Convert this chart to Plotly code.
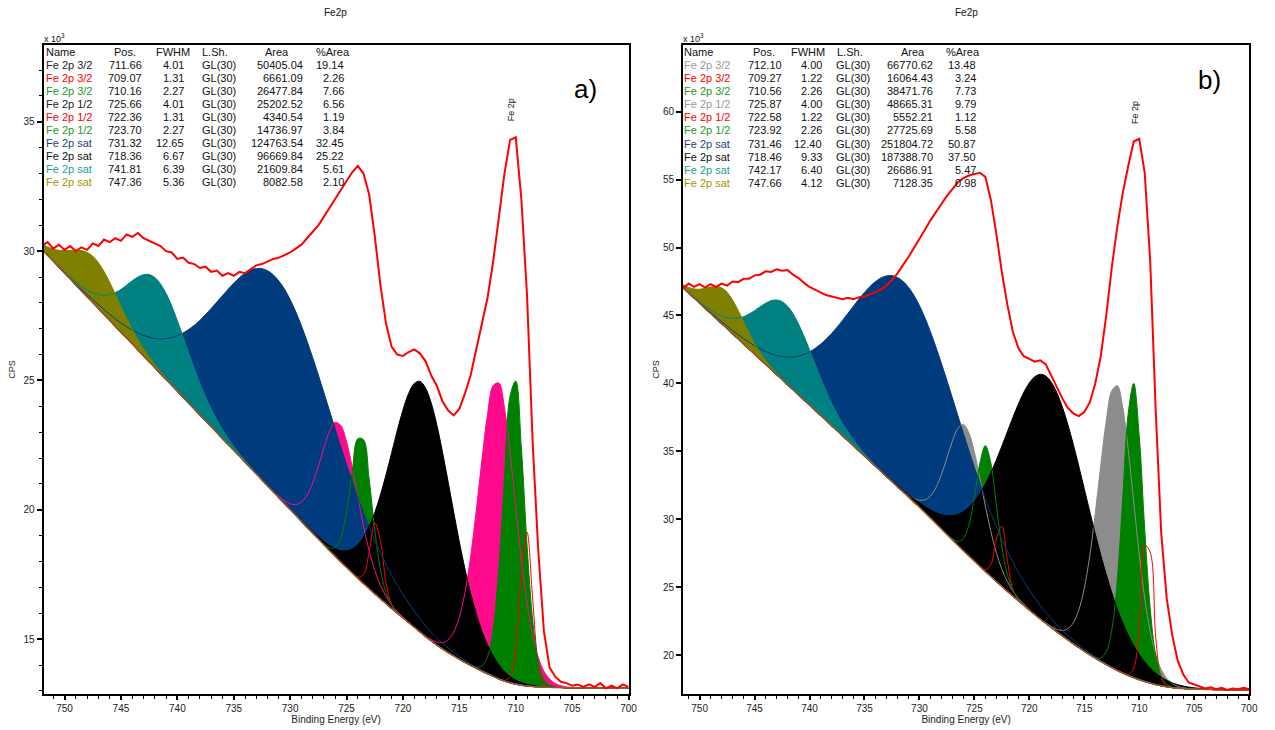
import numpy as np
import plotly.graph_objects as go

W, H = 1275, 730

# Binding-energy grid of the recorded spectra (eV)
ev = np.round(np.arange(700.0, 752.0 + 1e-9, 0.5), 2)

# ---------------- panel a) ----------------
cps_a = [13.15, 13.25, 13.10, 13.20, 13.10, 13.30, 13.15, 13.25, 13.15, 13.25,
         13.20, 13.30, 13.35, 13.55, 13.90, 15.30, 18.40, 22.60, 28.30, 32.00,
         34.40, 34.30, 33.00, 31.20, 29.60, 28.20, 27.20, 26.20, 25.20, 24.50,
         23.90, 23.65, 23.85, 24.20, 24.80, 25.20, 25.75, 26.05, 26.20, 26.10,
         25.95, 26.00, 26.30, 27.20, 28.70, 30.60, 32.20, 33.00, 33.30, 33.05,
         32.70, 32.40, 32.05, 31.65, 31.30, 31.00, 30.75, 30.50, 30.25, 30.10,
         29.95, 29.85, 29.75, 29.70, 29.60, 29.50, 29.45, 29.30, 29.15, 29.20,
         29.05, 29.15, 29.05, 29.25, 29.20, 29.40, 29.35, 29.50, 29.55, 29.75,
         29.70, 29.95, 30.00, 30.20, 30.30, 30.40, 30.50, 30.70, 30.55, 30.65,
         30.40, 30.50, 30.35, 30.45, 30.20, 30.30, 30.05, 30.15, 30.00, 30.20,
         30.05, 30.25, 30.10, 30.35, 30.20]
bg_a = [13.10, 13.10, 13.10, 13.11, 13.11, 13.11, 13.11, 13.11, 13.12, 13.12,
        13.12, 13.12, 13.13, 13.13, 13.14, 13.14, 13.15, 13.17, 13.19, 13.22,
        13.26, 13.31, 13.38, 13.46, 13.56, 13.66, 13.76, 13.87, 13.98, 14.10,
        14.22, 14.35, 14.48, 14.62, 14.77, 14.93, 15.10, 15.28, 15.46, 15.64,
        15.82, 16.00, 16.18, 16.37, 16.56, 16.75, 16.95, 17.15, 17.35, 17.56,
        17.77, 17.98, 18.20, 18.42, 18.64, 18.87, 19.09, 19.32, 19.55, 19.78,
        20.01, 20.24, 20.46, 20.69, 20.92, 21.15, 21.38, 21.61, 21.84, 22.07,
        22.29, 22.52, 22.75, 22.98, 23.21, 23.44, 23.66, 23.89, 24.12, 24.35,
        24.58, 24.81, 25.04, 25.26, 25.49, 25.72, 25.95, 26.18, 26.41, 26.64,
        26.86, 27.09, 27.32, 27.55, 27.78, 28.01, 28.23, 28.46, 28.69, 28.92,
        29.15, 29.38, 29.61, 29.83, 30.06]

names = ["Fe 2p 3/2", "Fe 2p 3/2", "Fe 2p 3/2", "Fe 2p 1/2", "Fe 2p 1/2",
         "Fe 2p 1/2", "Fe 2p sat", "Fe 2p sat", "Fe 2p sat", "Fe 2p sat"]
pos_a = ["711.66", "709.07", "710.16", "725.66", "722.36", "723.70", "731.32", "718.36", "741.81", "747.36"]
fwhm_a = ["4.01", "1.31", "2.27", "4.01", "1.31", "2.27", "12.65", "6.67", "6.39", "5.36"]
area_a = ["50405.04", "6661.09", "26477.84", "25202.52", "4340.54", "14736.97",
          "124763.54", "96669.84", "21609.84", "8082.58"]
pct_a = ["19.14", "2.26", "7.66", "6.56", "1.19", "3.84", "32.45", "25.22", "5.61", "2.10"]
height_a = [11.5, 6.0, 11.9, 5.3, 2.85, 5.7, 8.4, 9.7, 3.5, 1.8]

# ---------------- panel b) ----------------
cps_b = [17.50, 17.60, 17.50, 17.55, 17.45, 17.60, 17.50, 17.65, 17.55, 17.70,
         17.80, 18.00, 18.60, 19.60, 21.50, 24.20, 29.00, 38.00, 49.00, 55.50,
         58.00, 57.80, 56.00, 54.00, 51.50, 48.50, 45.00, 42.00, 40.00, 38.60,
         37.90, 37.60, 37.80, 38.20, 38.90, 39.70, 40.60, 41.40, 41.70, 41.60,
         41.80, 42.00, 42.60, 43.80, 45.80, 48.20, 51.00, 53.50, 55.20, 55.50,
         55.40, 55.30, 55.10, 54.80, 54.30, 53.80, 53.20, 52.60, 52.00, 51.30,
         50.60, 49.90, 49.30, 48.70, 48.10, 47.60, 47.20, 46.90, 46.70, 46.55,
         46.40, 46.35, 46.20, 46.30, 46.20, 46.30, 46.45, 46.50, 46.70, 46.90,
         47.10, 47.40, 47.75, 48.00, 48.35, 48.30, 48.40, 48.20, 48.25, 48.00,
         47.95, 47.70, 47.70, 47.45, 47.50, 47.20, 47.35, 47.10, 47.30, 47.05,
         47.30, 47.10, 47.35, 47.00, 47.20]
bg_b = [17.45, 17.45, 17.45, 17.46, 17.46, 17.47, 17.47, 17.48, 17.49, 17.50,
        17.51, 17.53, 17.55, 17.58, 17.62, 17.68, 17.75, 17.84, 17.95, 18.07,
        18.20, 18.35, 18.51, 18.69, 18.88, 19.09, 19.31, 19.54, 19.78, 20.03,
        20.29, 20.56, 20.84, 21.13, 21.42, 21.72, 22.03, 22.34, 22.66, 22.99,
        23.32, 23.66, 24.00, 24.35, 24.70, 25.06, 25.42, 25.79, 26.16, 26.54,
        26.92, 27.31, 27.70, 28.09, 28.49, 28.89, 29.29, 29.69, 30.09, 30.49,
        30.89, 31.27, 31.64, 32.02, 32.39, 32.77, 33.14, 33.52, 33.89, 34.27,
        34.64, 35.02, 35.39, 35.77, 36.14, 36.52, 36.89, 37.27, 37.64, 38.02,
        38.39, 38.77, 39.14, 39.52, 39.89, 40.27, 40.64, 41.02, 41.39, 41.77,
        42.14, 42.52, 42.89, 43.27, 43.64, 44.02, 44.39, 44.77, 45.14, 45.52,
        45.89, 46.27, 46.64, 47.02, 47.39]

pos_b = ["712.10", "709.27", "710.56", "725.87", "722.58", "723.92", "731.46", "718.46", "742.17", "747.66"]
fwhm_b = ["4.00", "1.22", "2.26", "4.00", "1.22", "2.26", "12.40", "9.33", "6.40", "4.12"]
area_b = ["66770.62", "16064.43", "38471.76", "48665.31", "5552.21", "27725.69",
          "251804.72", "187388.70", "26686.91", "7128.35"]
pct_b = ["13.48", "3.24", "7.73", "9.79", "1.12", "5.58", "50.87", "37.50", "5.47", "0.98"]
height_b = [21.0, 11.2, 21.7, 9.3, 4.5, 9.3, 15.5, 18.2, 5.8, 2.7]

lineshape = "GL(30)"
filled = [True, False, True, True, False, True, True, True, True, True]

BLUE, TEAL, OLIVE, GREEN, RED = "#003c7d", "#008080", "#808000", "#008000", "#ff0000"
PINK, GREY = "#ff0a8c", "#8c8c8c"
colors_a = [PINK, RED, GREEN, PINK, RED, GREEN, BLUE, "#000000", TEAL, OLIVE]
colors_b = [GREY, RED, GREEN, GREY, RED, GREEN, BLUE, "#000000", TEAL, OLIVE]
text_a = ["#222222", "#ff0000", "#1e9a1e", "#222222", "#ff0000", "#1e9a1e", "#1f3f80", "#111111", "#1aa0a0", "#a89400"]
text_b = ["#9a9a9a", "#ff0000", "#1e9a1e", "#9a9a9a", "#ff0000", "#1e9a1e", "#1f3f80", "#111111", "#1aa0a0", "#a89400"]


def gl(x, centre, fwhm, height, mix=0.3):
    """CasaXPS product Gaussian-Lorentzian GL(30) line shape."""
    d2 = ((x - centre) / fwhm) ** 2
    return height * np.exp(-4 * np.log(2) * (1 - mix) * d2) / (1 + 4 * mix * d2)


fig = go.Figure()


def add_panel(xa, ya, cps, bg, pos, fwhm, heights, colors):
    bg = np.array(bg)
    curves = [bg + gl(ev, float(p), float(f), h) for p, f, h in zip(pos, fwhm, heights)]
    common = dict(xaxis=xa, yaxis=ya, showlegend=False, hoverinfo="skip")
    # filled components, in table order
    for c, col, fl in zip(curves, colors, filled):
        if not fl:
            continue
        fig.add_trace(go.Scatter(x=ev, y=bg, mode="lines", line=dict(width=0, shape="spline"), **common))
        fig.add_trace(go.Scatter(x=ev, y=c, mode="lines", fill="tonexty", fillcolor=col,
                                 line=dict(width=0, shape="spline", color=col), **common))
    # component outlines
    for c, col in zip(curves, colors):
        fig.add_trace(go.Scatter(x=ev, y=c, mode="lines", line=dict(width=1, color=col, shape="spline"), **common))
    # background
    fig.add_trace(go.Scatter(x=ev, y=bg, mode="lines", line=dict(width=1.5, color="#a0522d", shape="spline"), **common))
    # measured envelope
    fig.add_trace(go.Scatter(x=ev, y=cps, mode="lines", line=dict(width=2, color=RED), **common))


add_panel("x", "y", cps_a, bg_a, pos_a, fwhm_a, height_a, colors_a)
add_panel("x2", "y2", cps_b, bg_b, pos_b, fwhm_b, height_b, colors_b)

FONT = "Arial, Liberation Sans, sans-serif"
tickfont = dict(family=FONT, size=10, color="#222")
titlefont = dict(family=FONT, size=10, color="#222")
ydom = [1 - 694 / H, 1 - 45 / H]


def xaxis(x0, x1, rng, anchor):
    return dict(domain=[x0 / W, x1 / W], range=rng, anchor=anchor, showline=True, mirror=True, linewidth=2,
                linecolor="black", ticks="outside", ticklen=4, tickwidth=1.5, tickcolor="black",
                tick0=700, dtick=5, tickfont=tickfont, showgrid=False, zeroline=False,
                title=dict(text="Binding Energy (eV)", font=titlefont, standoff=2),
                minor=dict(dtick=1, ticks="outside", ticklen=3, tickcolor="black", tickwidth=1))


def yaxis(anchor, rng, minor, standoff):
    d = dict(domain=ydom, range=rng, anchor=anchor, showline=True, mirror=True, linewidth=2,
             linecolor="black", ticks="outside", ticklen=5, tickwidth=1.5, tickcolor="black",
             tick0=0, dtick=5, tickfont=tickfont, showgrid=False, zeroline=False,
             title=dict(text="CPS", font=dict(family=FONT, size=9, color="#222"), standoff=standoff))
    if minor:
        d["minor"] = dict(dtick=1, ticks="outside", ticklen=3, tickcolor="black", tickwidth=1)
    return d


ann = []


def label(x, y, text, size=9, color="#111", xanchor="left", angle=0):
    ann.append(dict(x=x / W, y=1 - y / H, xref="paper", yref="paper", text=text,
                    showarrow=False, xanchor=xanchor, yanchor="middle", textangle=angle,
                    font=dict(family=FONT, size=size, color=color)))


def table(x_name, x_pos, x_fwhm, x_lsh, x_area, x_pct, heads, row0, step, pos, fwhm, area, pct, tcols):
    for text, hx in zip(["Name", "Pos.", "FWHM", "L.Sh.", "Area", "%Area"], heads):
        label(hx, 52, text, size=11)
    for i in range(10):
        y = row0 + step * i
        label(x_name, y, names[i], size=11, color=tcols[i])
        label(x_pos, y, pos[i], size=11, xanchor="right")
        label(x_fwhm, y, fwhm[i], size=11, xanchor="right")
        label(x_lsh, y, lineshape, size=11)
        label(x_area, y, area[i], size=11, xanchor="right")
        label(x_pct, y, pct[i], size=11, xanchor="right")


table(44, 145, 187, 201, 307, 348, [44, 113, 155, 201, 265, 316], 65, 13,
      pos_a, fwhm_a, area_a, pct_a, text_a)
table(687, 790, 830, 840, 942, 985, [687, 756, 795, 841, 905, 951], 65, 13.1,
      pos_b, fwhm_b, area_b, pct_b, text_b)

for cx, x0 in [(338, 42), (973, 686)]:
    label(cx, 12, "Fe2p", size=10, xanchor="center")
    label(x0, 38, "x 10<sup>3</sup>", size=9)
label(515, 110, "Fe 2p", size=9, xanchor="center", angle=-90)
label(1143, 112, "Fe 2p", size=9, xanchor="center", angle=-90)
label(590, 89, "a)", size=26, xanchor="center", color="#000")
label(1218, 80, "b)", size=26, xanchor="center", color="#000")

fig.update_layout(
    width=W, height=H, margin=dict(l=0, r=0, t=0, b=0),
    paper_bgcolor="white", plot_bgcolor="white",
    xaxis=xaxis(44, 633, [751.85, 700], "y"),
    yaxis=yaxis("x", [12.88, 37.97], True, 6),
    xaxis2=xaxis(688, 1258, [751.5, 700], "y2"),
    yaxis2=yaxis("x2", [17.15, 64.9], False, 2),
    annotations=ann,
)

fig.write_html("out.html")
